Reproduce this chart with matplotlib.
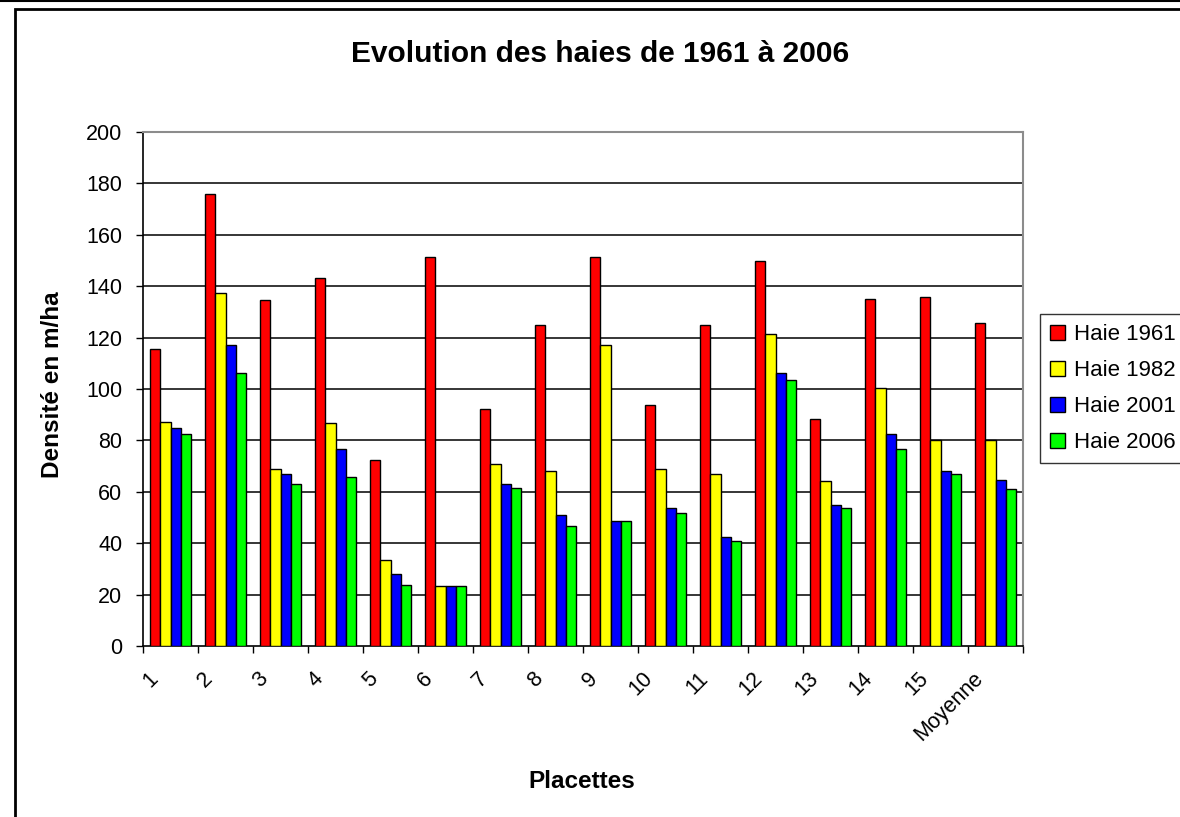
import numpy as np
import matplotlib
matplotlib.use("Agg")
import matplotlib.pyplot as plt
from matplotlib.patches import Rectangle
from matplotlib.lines import Line2D

plt.rcParams['font.family'] = ['Liberation Sans', 'DejaVu Sans']

categories = ["1", "2", "3", "4", "5", "6", "7", "8", "9", "10",
              "11", "12", "13", "14", "15", "Moyenne"]
haie_1961 = [115.5, 176, 134.6, 143, 72.4, 151.2, 92.1, 125, 151.2, 93.8,
             125, 150, 88.5, 135.2, 135.8, 125.5]
haie_1982 = [87.3, 137.5, 68.8, 86.6, 33.5, 23.2, 71, 68.2, 117.2, 68.8,
             67, 121.3, 64.1, 100.5, 80.2, 80.2]
haie_2001 = [85, 117.2, 67, 76.5, 28.2, 23.2, 62.9, 50.8, 48.5, 53.8,
             42.4, 106.4, 55, 82.6, 68.2, 64.6]
haie_2006 = [82.6, 106.4, 62.9, 65.7, 23.9, 23.2, 61.5, 46.5, 48.5, 51.6,
             40.8, 103.5, 53.8, 76.7, 67, 61]
series_names = ["Haie 1961", "Haie 1982", "Haie 2001", "Haie 2006"]
series_colors = ["#ff0000", "#ffff00", "#0000ff", "#00ff00"]
yticks = [0, 20, 40, 60, 80, 100, 120, 140, 160, 180, 200]

W, H = 1180, 817
fig = plt.figure(figsize=(W / 100, H / 100), dpi=100)
fig.patch.set_facecolor("white")

# chart frame (extends past the right and bottom edges)
fig.add_artist(Rectangle((15 / W, -0.05), 1.1, 1 - 8.5 / H + 0.05,
                         transform=fig.transFigure, fill=False,
                         edgecolor="black", linewidth=2.0))
fig.add_artist(Line2D([0, 1], [1 - 0.8 / H, 1 - 0.8 / H],
                      transform=fig.transFigure, color="black", linewidth=1.5))

left, right, bottom, top = 143 / W, 1023 / W, 1 - 646 / H, 1 - 132 / H
ax = fig.add_axes([left, bottom, right - left, top - bottom])

n = len(categories)
x = np.arange(n)
bw = 0.182
all_series = [haie_1961, haie_1982, haie_2001, haie_2006]
for i, (vals, name, col) in enumerate(zip(all_series, series_names, series_colors)):
    ax.bar(x + (i - 1.5) * bw, vals, width=bw, color=col, edgecolor="black",
           linewidth=1.0, label=name, zorder=3)

ax.set_xlim(-0.5, n - 0.5)
ax.set_ylim(0, 200)
ax.set_yticks(yticks)
ax.set_yticklabels([str(v) for v in yticks], fontsize=15.5)
for v in yticks[1:-1]:
    ax.axhline(v, color="black", linewidth=1.1, zorder=1)

# category boundary ticks on the x axis
ax.set_xticks(np.arange(-0.5, n, 1.0))
ax.set_xticklabels([])
ax.tick_params(axis="x", direction="out", length=5, width=1, color="black")
ax.tick_params(axis="y", direction="out", length=5, width=1, color="black", pad=10)
for xi, lab in zip(x, categories):
    ax.text(xi - 0.42, -8.5, lab, rotation=45, rotation_mode="anchor",
            ha="right", va="top", fontsize=15.5, transform=ax.transData,
            clip_on=False)

for s in ["left", "bottom"]:
    ax.spines[s].set_color("black")
    ax.spines[s].set_linewidth(1.2)
for s in ["top", "right"]:
    ax.spines[s].set_color("#8c8c8c")
    ax.spines[s].set_linewidth(1.5)

fig.text(600 / W, 1 - 54 / H, "Evolution des haies de 1961 à 2006",
         ha="center", va="center", fontsize=21.5, fontweight="bold")
fig.text(582 / W, 1 - 782 / H, "Placettes", ha="center", va="center",
         fontsize=17.5, fontweight="bold")
fig.text(53 / W, 1 - 385 / H, "Densité en m/ha", ha="center", va="center",
         rotation=90, fontsize=17.5, fontweight="bold")

leg = fig.legend(loc="upper left", bbox_to_anchor=(1040 / W, 1 - 314 / H),
                 fontsize=16, frameon=True, fancybox=False, edgecolor="black",
                 handlelength=0.68, handleheight=0.68, handletextpad=0.4,
                 labelspacing=0.68, borderpad=0.45, borderaxespad=0)
leg.get_frame().set_linewidth(1.0)

fig.savefig("out.png", dpi=100, facecolor="white")
